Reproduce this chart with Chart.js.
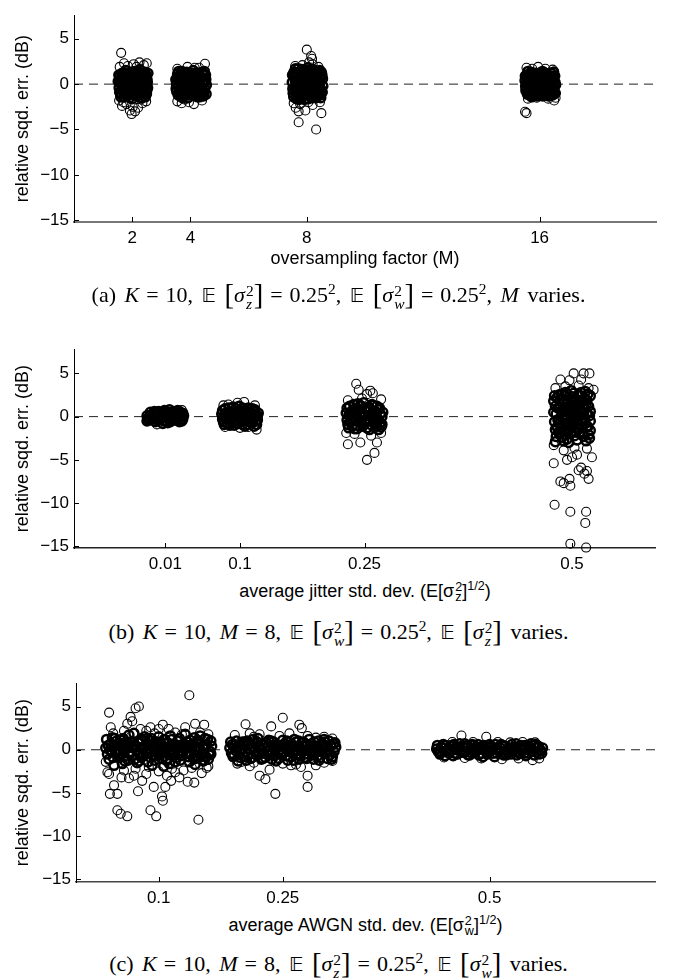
<!DOCTYPE html>
<html><head><meta charset="utf-8">
<script src="https://cdn.jsdelivr.net/npm/chart.js@4.4.1/dist/chart.umd.min.js"></script>
<style>
html,body{margin:0;padding:0;background:#fff;}
body{width:677px;height:978px;position:relative;overflow:hidden;font-family:"Liberation Sans",Arial,Helvetica,sans-serif;color:#000;}
.pane{position:absolute;left:0;width:677px;}
.pane canvas{display:block;}
.xt{position:absolute;text-align:center;font-size:18px;white-space:nowrap;line-height:1;}
.cap{position:absolute;left:0;width:677px;text-align:center;font-family:"Liberation Serif","Times New Roman",serif;font-size:22px;white-space:nowrap;line-height:1;word-spacing:3px;}
.ss{display:inline-block;vertical-align:middle;line-height:0.85;text-align:left;font-size:0.7em;margin-left:1px;}
.ss span{display:block;}
.bb{font-family:"DejaVu Sans","Noto Sans",serif;font-size:0.9em;color:#000;}
.br{font-size:1.3em;vertical-align:-2px;}
.q{margin:0 7px;}
sup{font-size:0.7em;}
i{font-style:italic;}
</style>
</head><body>

<div class="pane" style="top:0;height:250px"><canvas id="ca" width="677" height="250"></canvas></div>
<div class="xt" style="left:74px;width:582px;top:249px">oversampling factor (M)</div>
<div class="cap" style="top:281px">(a) <i>K</i><span class="q">=</span>10, <span class="bb">𝔼</span> <span class="br">[</span><i>σ</i><span class="ss"><span>2</span><span><i>z</i></span></span><span class="br">]</span><span class="q">=</span>0.25<sup>2</sup>, <span class="bb">𝔼</span> <span class="br">[</span><i>σ</i><span class="ss"><span>2</span><span><i>w</i></span></span><span class="br">]</span><span class="q">=</span>0.25<sup>2</sup>, <i>M</i> varies.</div>

<div class="pane" style="top:334px;height:242px"><canvas id="cb" width="677" height="242"></canvas></div>
<div class="xt" style="left:74px;width:582px;top:580px">average jitter std. dev. (E[σ<span class="ss"><span>2</span><span>z</span></span>]<sup>1/2</sup>)</div>
<div class="cap" style="top:618px">(b) <i>K</i><span class="q">=</span>10, <i>M</i><span class="q">=</span>8, <span class="bb">𝔼</span> <span class="br">[</span><i>σ</i><span class="ss"><span>2</span><span><i>w</i></span></span><span class="br">]</span><span class="q">=</span>0.25<sup>2</sup>, <span class="bb">𝔼</span> <span class="br">[</span><i>σ</i><span class="ss"><span>2</span><span><i>z</i></span></span><span class="br">]</span> varies.</div>

<div class="pane" style="top:668px;height:242px"><canvas id="cc" width="677" height="242"></canvas></div>
<div class="xt" style="left:76px;width:579px;top:914px">average AWGN std. dev. (E[σ<span class="ss"><span>2</span><span>w</span></span>]<sup>1/2</sup>)</div>
<div class="cap" style="top:950px">(c) <i>K</i><span class="q">=</span>10, <i>M</i><span class="q">=</span>8, <span class="bb">𝔼</span> <span class="br">[</span><i>σ</i><span class="ss"><span>2</span><span><i>z</i></span></span><span class="br">]</span><span class="q">=</span>0.25<sup>2</sup>, <span class="bb">𝔼</span> <span class="br">[</span><i>σ</i><span class="ss"><span>2</span><span><i>w</i></span></span><span class="br">]</span> varies.</div>

<script>
// ---------- tick values / labels ----------
const yTicks = [-15, -10, -5, 0, 5];
const aXTicks = [2, 4, 8, 16];
const aXLabels = ["2", "4", "8", "16"];
const bXTicks = [0.01, 0.1, 0.25, 0.5];
const bXLabels = ["0.01", "0.1", "0.25", "0.5"];
const cXTicks = [0.1, 0.25, 0.5];
const cXLabels = ["0.1", "0.25", "0.5"];
const yTitle = "relative sqd. err. (dB)";

// ---------- panel (a): oversampling factor M  ([x, dB] per trial) ----------
const aM2 = [[1.52,0.3],[1.55,-0.4],[1.58,0.9],[1.6,-1.1],[1.63,0.1],[1.65,1.2],[1.67,-0.7],[1.7,0.5],[1.72,-1.4],[1.74,-0.2],[1.76,0.8],[1.78,1.5],[1.8,-0.9],[1.82,0.2],[1.84,-0.5],[1.86,1.0],[1.88,-1.2],[1.9,0.4],[1.92,-0.1],[1.94,1.3],[1.96,-0.8],[1.98,0.6],[2.0,-1.6],[2.02,0.0],[2.04,0.9],[2.06,-0.4],[2.08,1.4],[2.1,-1.0],[2.12,0.3],[2.14,-0.6],[2.16,1.1],[2.18,-1.3],[2.2,0.1],[2.22,0.7],[2.24,-0.3],[2.26,1.6],[2.28,-0.9],[2.3,0.4],[2.32,-1.5],[2.34,0.0],[2.36,1.0],[2.38,-0.5],[2.4,0.6],[2.42,-1.1],[2.44,1.3],[2.46,-0.2],[2.48,0.8],[2.5,-0.7],[2.52,0.2],[2.54,1.2],[1.57,-0.9],[1.62,0.6],[1.69,-0.1],[1.73,1.1],[1.79,-0.4],[1.85,0.7],[1.91,-1.5],[1.97,0.3],[2.03,-0.9],[2.09,0.5],[2.15,-0.1],[2.21,-1.2],[2.27,0.2],[2.33,1.2],[2.39,-0.2],[2.45,-1.4],[2.51,0.5],[1.75,0.1],[2.05,0.2],[2.25,-0.5],[1.95,-0.3],[2.35,0.3],[1.66,-0.3],[2.45,0.1],
[1.54,1.0],[1.59,0.2],[1.64,-0.6],[1.68,0.9],[1.71,-0.9],[1.77,-0.1],[1.81,1.2],[1.83,-1.3],[1.87,0.1],[1.89,-0.6],[1.93,0.8],[1.99,-0.2],[2.01,1.1],[2.07,-1.2],[2.11,0.9],[2.13,-0.3],[2.17,0.5],[2.19,-0.8],[2.23,1.3],[2.29,-0.1],[2.31,0.8],[2.37,-1.0],[2.41,0.2],[2.43,-0.5],[2.47,1.0],[2.49,-1.1],[2.53,-0.4],[1.61,-1.4],[1.81,-1.0],[2.19,1.2]];
const aM2Out = [[1.62,3.45],[1.57,1.9],[1.72,2.3],[1.85,2.0],[2.05,2.2],[2.25,2.4],[2.4,2.1],[2.5,2.3],[2.15,1.9],[1.55,-1.8],[1.65,-2.4],[1.8,-2.2],[1.92,-2.9],[1.98,-3.3],[2.1,-3.0],[2.2,-2.6],[2.35,-2.1],[2.48,-1.9],[1.7,-2.0],[2.02,-2.5],[2.3,-1.7]];
const aM4 = [[3.5,0.5],[3.53,-0.8],[3.56,1.1],[3.59,-0.2],[3.62,0.8],[3.65,-1.3],[3.68,0.2],[3.71,1.4],[3.74,-0.6],[3.77,0.4],[3.8,-1.1],[3.83,1.0],[3.86,-0.3],[3.89,0.6],[3.92,-1.5],[3.95,0.1],[3.98,1.2],[4.01,-0.9],[4.04,0.3],[4.07,-0.4],[4.1,1.5],[4.13,-1.2],[4.16,0.7],[4.19,-0.1],[4.22,1.1],[4.25,-0.7],[4.28,0.2],[4.31,-1.4],[4.34,0.9],[4.37,-0.3],[4.4,1.3],[4.43,-0.9],[4.46,0.4],[4.49,-0.5],[4.52,1.0],[4.55,-0.1],[3.52,0.0],[3.58,-1.2],[3.64,0.4],[3.7,-0.8],[3.76,1.2],[3.82,0.0],[3.88,-0.7],[3.94,0.9],[4.0,0.0],[4.06,1.0],[4.12,-0.6],[4.18,0.4],[4.24,-1.4],[4.3,0.6],[4.36,-0.8],[4.42,0.1],[4.48,1.4],[4.54,-1.1],[3.6,1.4],[3.73,-1.5],[3.85,0.3],[3.97,-0.5],[4.09,-1.0],[4.21,0.0],[4.33,0.3],[4.45,-1.3],[3.67,-0.4],[4.27,1.2],
[3.51,-0.5],[3.55,0.7],[3.61,-0.9],[3.66,1.0],[3.69,-0.2],[3.75,0.5],[3.79,-1.3],[3.81,0.7],[3.87,1.3],[3.9,-0.4],[3.93,0.4],[3.99,-1.2],[4.02,0.6],[4.05,-0.7],[4.08,0.4],[4.11,-0.2],[4.14,1.2],[4.17,-0.9],[4.2,0.8],[4.23,-0.4],[4.26,-1.0],[4.29,1.0],[4.32,-0.1],[4.35,-1.2],[4.38,0.7],[4.41,-0.6],[4.44,1.1],[4.47,-0.9],[4.5,0.2],[4.53,0.5]];
const aM4Out = [[4.5,2.25],[4.3,1.8],[3.9,1.9],[3.55,1.7],[4.15,1.8],[3.55,-1.9],[3.7,-2.1],[3.95,-2.0],[4.12,-2.2],[4.4,-1.8],[3.8,-1.7]];
const aM8 = [[7.5,0.2],[7.53,-1.0],[7.56,1.3],[7.59,-0.4],[7.62,0.7],[7.65,-1.6],[7.68,0.0],[7.71,1.7],[7.74,-0.8],[7.77,0.4],[7.8,-1.3],[7.83,1.1],[7.86,-0.2],[7.89,0.8],[7.92,-1.7],[7.95,0.3],[7.98,1.5],[8.01,-1.0],[8.04,0.1],[8.07,-0.5],[8.1,1.2],[8.13,-1.4],[8.16,0.6],[8.19,-0.2],[8.22,1.6],[8.25,-0.9],[8.28,0.3],[8.31,-1.5],[8.34,0.9],[8.37,-0.4],[8.4,1.4],[8.43,-1.1],[8.46,0.5],[8.49,-0.6],[8.52,1.0],[8.55,-0.2],[7.52,-0.5],[7.58,0.9],[7.64,-1.2],[7.7,0.5],[7.76,-0.2],[7.82,1.6],[7.88,-1.0],[7.94,-0.4],[8.0,0.7],[8.06,-1.6],[8.12,0.2],[8.18,-0.8],[8.24,0.0],[8.3,1.1],[8.36,-1.2],[8.42,0.2],[8.48,-1.5],[8.54,0.6],[7.61,1.7],[7.73,-1.7],[7.85,0.2],[7.97,-0.6],[8.09,0.9],[8.21,-1.5],[8.33,-0.3],[8.45,1.5],[7.67,-0.3],[8.27,0.6],[8.03,1.8],[7.79,-0.6],
[7.51,1.0],[7.55,-1.4],[7.6,0.4],[7.63,-0.6],[7.66,1.2],[7.69,-1.1],[7.72,0.1],[7.75,1.3],[7.78,-1.5],[7.81,0.6],[7.84,-0.9],[7.87,1.4],[7.9,-0.3],[7.93,0.9],[7.96,-1.2],[7.99,0.0],[8.02,1.3],[8.05,-0.8],[8.08,0.5],[8.11,-1.1],[8.14,1.6],[8.17,-0.4],[8.2,0.8],[8.23,-1.2],[8.26,1.3],[8.29,-0.6],[8.32,0.5],[8.35,-0.9],[8.38,1.2],[8.41,-0.5],[8.44,0.0],[8.47,-1.2],[8.5,1.3],[8.53,-0.9]];
const aM8Out = [[8.0,3.8],[8.15,3.1],[8.18,2.8],[8.08,2.4],[8.2,2.2],[7.6,2.0],[7.85,2.1],[8.4,1.9],[7.55,-2.1],[7.62,-2.6],[7.72,-3.0],[7.95,-2.9],[7.77,-2.2],[8.2,-2.3],[8.45,-2.0],[7.72,-4.2],[8.32,-5.0],[8.5,-3.2],[8.05,-2.0]];
const aM16 = [[15.5,0.4],[15.53,-0.7],[15.56,1.0],[15.59,-0.1],[15.62,0.7],[15.65,-1.2],[15.68,0.2],[15.71,1.3],[15.74,-0.5],[15.77,0.3],[15.8,-1.0],[15.83,0.9],[15.86,-0.3],[15.89,0.5],[15.92,-1.3],[15.95,0.1],[15.98,1.1],[16.01,-0.8],[16.04,0.3],[16.07,-0.3],[16.1,1.4],[16.13,-1.1],[16.16,0.6],[16.19,-0.1],[16.22,1.0],[16.25,-0.6],[16.28,0.2],[16.31,-1.3],[16.34,0.8],[16.37,-0.3],[16.4,1.2],[16.43,-0.8],[16.46,0.4],[16.49,-0.5],[16.52,0.9],[16.55,-0.1],[15.52,-0.2],[15.58,-1.1],[15.64,0.4],[15.7,-0.7],[15.76,1.1],[15.82,0.0],[15.88,-0.7],[15.94,0.8],[16.0,0.0],[16.06,0.9],[16.12,-0.5],[16.18,0.4],[16.24,-1.2],[16.3,0.6],[16.36,-0.8],[16.42,0.1],[16.48,1.3],[16.54,-1.0],[15.6,1.4],[15.73,-1.4],[15.85,0.3],[15.97,-0.5],[16.09,-0.9],[16.21,0.0],[16.33,0.3],[16.45,-1.2],
[15.51,0.9],[15.54,-0.5],[15.57,0.3],[15.61,-0.8],[15.63,1.1],[15.67,-1.0],[15.69,0.6],[15.72,-0.2],[15.75,0.8],[15.78,-1.2],[15.81,0.4],[15.84,-0.6],[15.87,1.2],[15.9,-0.1],[15.93,0.6],[15.96,-1.1],[15.99,0.5],[16.02,1.2],[16.05,-0.6],[16.08,0.2],[16.11,-1.3],[16.14,0.8],[16.17,-0.3],[16.2,1.2],[16.23,0.3],[16.26,-0.9],[16.29,1.0],[16.32,-0.5],[16.35,0.5],[16.38,-1.2],[16.41,0.9],[16.44,-0.2],[16.47,0.6],[16.5,-0.9],[16.53,0.2]];
const aM16Out = [[15.55,1.8],[15.75,1.7],[15.95,1.9],[16.2,1.7],[16.45,1.6],[16.5,1.4],[15.5,-3.05],[15.55,-3.2],[15.6,-1.6],[15.9,-1.5],[16.3,-1.6],[16.5,-1.8],[16.55,-1.5]];

// ---------- panel (b): jitter std. dev. ----------
const bJ001 = [[-0.012,0.1],[-0.01,-0.4],[-0.008,0.5],[-0.006,-0.1],[-0.004,0.3],[-0.002,-0.6],[0.0,0.0],[0.002,0.6],[0.004,-0.3],[0.006,0.2],[0.008,-0.5],[0.01,0.4],[0.012,-0.1],[0.014,0.5],[0.016,-0.6],[0.018,0.1],[0.02,0.6],[0.022,-0.4],[0.024,0.2],[0.026,-0.2],[0.028,0.5],[0.03,-0.5],[0.032,0.1],[-0.011,-0.2],[-0.007,0.2],[-0.003,0.6],[0.001,-0.4],[0.005,0.0],[0.009,0.7],[0.013,-0.7],[0.017,-0.2],[0.021,0.3],[0.025,0.7],[0.029,0.0],[0.031,-0.3],[-0.005,-0.3],[0.003,0.3],[0.011,0.1],[0.019,-0.3],[0.027,-0.6],[0.007,-0.8],[0.015,0.8],
[-0.009,0.0],[-0.001,0.2],[0.007,0.5],[0.015,-0.4],[0.023,0.4],[0.031,0.4],[0.019,0.5],[0.027,0.2],[-0.012,-0.5],[0.011,-0.5]];
const bJ001Out = [[0.0,-0.9],[0.03,0.75]];
const bJ01 = [[0.078,0.3],[0.08,-0.6],[0.082,0.9],[0.084,-0.1],[0.086,0.5],[0.088,-1.0],[0.09,0.1],[0.092,1.1],[0.094,-0.4],[0.096,0.3],[0.098,-0.8],[0.1,0.7],[0.102,-0.2],[0.104,0.5],[0.106,-1.1],[0.108,0.0],[0.11,1.0],[0.112,-0.6],[0.114,0.2],[0.116,-0.3],[0.118,0.8],[0.12,-0.9],[0.122,0.4],[0.079,-0.3],[0.083,0.4],[0.087,1.0],[0.091,-0.7],[0.095,0.0],[0.099,1.2],[0.103,-0.9],[0.107,0.6],[0.111,-0.2],[0.115,0.9],[0.119,-0.5],[0.121,0.1],[0.085,-0.8],[0.093,0.6],[0.101,-0.5],[0.109,-0.9],[0.117,-1.1],[0.097,0.2],[0.113,0.5],[0.081,0.1],
[0.079,0.7],[0.081,-0.9],[0.085,0.2],[0.089,0.6],[0.093,-1.0],[0.095,0.9],[0.099,-0.2],[0.101,0.3],[0.105,-0.5],[0.109,0.9],[0.111,0.4],[0.115,-0.7],[0.119,0.1],[0.121,-0.4],[0.089,-0.3],[0.103,1.0],[0.117,0.6],[0.083,-0.1]];
const bJ01Out = [[0.08,1.3],[0.086,1.4],[0.097,1.6],[0.105,1.7],[0.118,1.3],[0.082,-1.2],[0.1,-1.3],[0.12,-1.5],[0.11,-1.2]];
const bJ025 = [[0.228,0.4],[0.23,-0.9],[0.232,1.2],[0.234,-0.2],[0.236,0.7],[0.238,-1.4],[0.24,0.1],[0.242,1.5],[0.244,-0.6],[0.246,0.3],[0.248,-1.1],[0.25,0.9],[0.252,-0.3],[0.254,0.6],[0.256,-1.5],[0.258,0.0],[0.26,1.3],[0.262,-0.8],[0.264,0.2],[0.266,-0.4],[0.268,1.0],[0.27,-1.2],[0.272,0.5],[0.229,-0.4],[0.233,0.5],[0.237,1.4],[0.241,-1.0],[0.245,0.0],[0.249,1.6],[0.253,-1.3],[0.257,0.8],[0.261,-0.2],[0.265,1.2],[0.269,-0.7],[0.271,0.0],[0.235,-1.1],[0.243,0.8],[0.251,-0.6],[0.259,-1.0],[0.267,-1.5],[0.247,0.3],[0.263,0.6],[0.231,0.1],[0.239,-0.3],[0.255,1.1],
[0.229,1.0],[0.231,-1.3],[0.235,0.3],[0.239,0.9],[0.241,-1.4],[0.245,1.3],[0.247,-0.8],[0.251,0.1],[0.255,-0.5],[0.259,1.4],[0.261,0.5],[0.265,-1.1],[0.269,0.3],[0.271,-0.9],[0.233,-0.6],[0.243,-0.4],[0.253,1.0],[0.263,-0.5],[0.267,0.8],[0.237,-0.1]];
const bJ025Out = [[0.24,3.8],[0.243,3.1],[0.253,2.6],[0.257,3.0],[0.26,2.7],[0.23,1.9],[0.27,2.0],[0.247,2.1],[0.228,-1.9],[0.23,-3.2],[0.238,-2.0],[0.245,-3.0],[0.253,-5.0],[0.262,-4.2],[0.265,-3.0],[0.27,-1.9],[0.258,-2.2]];
const bJ05 = [[0.478,0.5],[0.48,-1.5],[0.482,2.2],[0.484,-0.3],[0.486,1.1],[0.488,-2.4],[0.49,0.2],[0.492,2.8],[0.494,-1.0],[0.496,0.7],[0.498,-1.9],[0.5,1.6],[0.502,-0.5],[0.504,0.9],[0.506,-2.7],[0.508,0.0],[0.51,2.4],[0.512,-1.3],[0.514,0.4],[0.516,-0.8],[0.518,1.9],[0.52,-2.1],[0.522,0.6],[0.479,-0.6],[0.483,1.0],[0.487,2.6],[0.491,-1.7],[0.495,-0.1],[0.499,3.0],[0.503,-2.2],[0.507,1.3],[0.511,-0.4],[0.515,2.1],[0.519,-1.2],[0.521,0.1],[0.485,-2.0],[0.493,1.4],[0.501,-1.1],[0.509,-1.8],[0.517,-2.8],[0.497,0.4],[0.513,1.1],[0.481,0.3],[0.489,-0.9],[0.505,2.0],[0.478,1.8],[0.48,-2.9],[0.486,-0.7],[0.49,1.5],[0.494,-2.6],[0.498,0.9],[0.502,2.7],[0.506,-1.4],[0.51,0.8],[0.514,-2.3],[0.518,0.3],[0.522,-1.6],[0.482,-1.2],[0.492,-0.2],[0.5,-0.7],[0.508,-0.9],[0.516,2.9],[0.52,1.2],[0.484,2.5],[0.496,-3.0],[0.504,0.1],[0.512,1.7],[0.488,0.8],[0.522,2.4],
[0.479,2.4],[0.481,-2.3],[0.483,-0.4],[0.485,0.9],[0.487,-1.3],[0.489,2.0],[0.491,0.6],[0.493,-2.1],[0.495,1.9],[0.497,-1.4],[0.499,-0.4],[0.501,2.3],[0.503,0.5],[0.505,-1.8],[0.507,-0.3],[0.509,1.6],[0.511,2.8],[0.513,-2.0],[0.515,-0.2],[0.517,1.3],[0.519,2.6],[0.521,-2.5],[0.48,1.2],[0.484,-1.8],[0.49,-2.8],[0.494,2.6],[0.5,0.3],[0.506,1.0],[0.512,-0.6],[0.518,-1.1],[0.522,-0.5],[0.496,1.2],[0.488,-0.1],[0.508,2.5],[0.514,1.4]];
const bJ05Out = [[0.486,4.3],[0.497,4.2],[0.502,5.0],[0.514,5.0],[0.521,5.0],[0.511,4.3],[0.492,3.5],[0.52,3.3],[0.526,3.1],[0.48,3.3],[0.508,3.6],[0.478,-3.3],[0.49,-3.9],[0.503,-3.6],[0.518,-3.7],[0.524,-4.7],[0.5,-4.7],[0.478,-5.4],[0.506,-4.4],[0.486,-7.5],[0.49,-7.7],[0.497,-7.2],[0.498,-8.0],[0.511,-5.9],[0.518,-6.3],[0.52,-7.2],[0.508,-6.2],[0.515,-6.6],[0.494,-5.0],[0.479,-10.2],[0.498,-11.0],[0.517,-11.0],[0.516,-12.3],[0.498,-14.7],[0.517,-15.15]];

// ---------- panel (c): AWGN std. dev. ----------
const cW01 = [[0.036,0.2],[0.04,-1.1],[0.044,1.4],[0.048,-0.3],[0.052,0.8],[0.056,-1.6],[0.06,0.1],[0.064,1.7],[0.068,-0.7],[0.072,0.4],[0.076,-1.3],[0.08,1.0],[0.084,-0.2],[0.088,0.6],[0.092,-1.8],[0.096,0.0],[0.1,1.5],[0.104,-1.0],[0.108,0.3],[0.112,-0.5],[0.116,1.2],[0.12,-1.4],[0.124,0.5],[0.128,-0.1],[0.132,1.8],[0.136,-0.8],[0.14,0.2],[0.144,-1.7],[0.148,0.9],[0.152,-0.4],[0.156,1.3],[0.16,-1.1],[0.164,0.4],
[0.038,-0.5],[0.042,0.7],[0.046,-1.8],[0.05,0.0],[0.054,1.1],[0.058,-0.8],[0.062,0.5],[0.066,-0.2],[0.07,1.9],[0.074,-1.5],[0.078,0.2],[0.082,-0.6],[0.086,1.3],[0.09,-0.9],[0.094,0.6],[0.098,-0.3],[0.102,0.9],[0.106,-1.9],[0.11,0.1],[0.114,1.6],[0.118,-0.6],[0.122,0.2],[0.126,-1.2],[0.13,0.7],[0.134,-0.4],[0.138,1.1],[0.142,-0.9],[0.146,0.0],[0.15,1.6],[0.154,-1.3],[0.158,0.6],[0.162,-0.2],
[0.037,1.2],[0.043,-0.2],[0.047,0.5],[0.053,-0.9],[0.057,1.3],[0.063,-1.2],[0.067,0.9],[0.073,0.0],[0.077,-0.5],[0.083,1.5],[0.087,-1.4],[0.093,0.3],[0.097,-0.7],[0.103,0.5],[0.107,1.2],[0.113,-1.6],[0.117,0.0],[0.123,1.0],[0.127,-0.7],[0.133,0.3],[0.137,-1.4],[0.143,1.4],[0.147,-0.2],[0.153,0.4],[0.157,-0.8],[0.163,1.0],
[0.039,0.5],[0.045,-0.9],[0.049,1.0],[0.055,0.3],[0.059,-1.3],[0.061,0.9],[0.065,-0.5],[0.069,0.2],[0.071,-1.1],[0.075,0.8],[0.079,-0.9],[0.081,0.3],[0.085,-0.5],[0.089,1.1],[0.091,0.0],[0.095,-1.2],[0.099,0.7],[0.101,-0.6],[0.105,0.3],[0.109,-1.2],[0.111,0.8],[0.115,-0.2],[0.119,0.6],[0.121,-0.9],[0.125,1.3],[0.129,-0.4],[0.131,0.1],[0.135,0.9],[0.139,-0.6],[0.141,0.6],[0.145,-1.0],[0.149,0.3],[0.151,-0.8],[0.155,0.1],[0.159,1.2],[0.161,-0.6],
[0.041,0.0],[0.047,1.3],[0.051,-0.5],[0.063,0.3],[0.071,0.6],[0.079,1.2],[0.087,0.1],[0.091,1.3],[0.103,-0.2],[0.111,-1.0],[0.119,-0.2],[0.127,0.5],[0.135,0.5],[0.139,0.2],[0.147,1.1],[0.155,-1.2],[0.163,-0.5],[0.057,-0.1],[0.097,0.9],[0.123,-0.4]];
const cW01Out = [[0.04,4.3],[0.042,2.6],[0.045,1.9],[0.062,3.0],[0.066,3.8],[0.068,3.3],[0.072,4.8],[0.076,5.0],[0.078,2.4],[0.085,2.2],[0.09,2.6],[0.1,2.4],[0.105,2.9],[0.112,2.4],[0.12,2.0],[0.128,1.8],[0.137,6.3],[0.144,3.0],[0.15,2.0],[0.155,2.9],[0.16,1.8],[0.095,1.9],[0.058,2.2],[0.132,2.6],
[0.036,-1.4],[0.038,-2.6],[0.04,-2.8],[0.041,-5.1],[0.046,-4.1],[0.05,-5.1],[0.055,-3.2],[0.05,-7.0],[0.054,-7.4],[0.062,-7.7],[0.064,-3.3],[0.07,-3.0],[0.075,-4.8],[0.08,-3.6],[0.085,-2.8],[0.09,-7.0],[0.094,-4.3],[0.097,-7.7],[0.1,-2.5],[0.104,-5.4],[0.105,-5.9],[0.108,-4.3],[0.11,-3.0],[0.115,-3.6],[0.12,-2.6],[0.125,-3.2],[0.13,-2.4],[0.135,-3.7],[0.143,-3.8],[0.148,-8.1],[0.152,-2.7],[0.158,-2.1],[0.16,-1.9],[0.072,-2.2],[0.088,-2.0],[0.116,-2.2],[0.058,-2.4],[0.14,-2.1]];
const cW025 = [[0.186,0.2],[0.19,-0.8],[0.194,1.0],[0.198,-0.2],[0.202,0.6],[0.206,-1.2],[0.21,0.1],[0.214,1.2],[0.218,-0.6],[0.222,0.3],[0.226,-1.0],[0.23,0.8],[0.234,-0.1],[0.238,0.5],[0.242,-1.3],[0.246,0.0],[0.25,1.1],[0.254,-0.7],[0.258,0.3],[0.262,-0.3],[0.266,0.9],[0.27,-1.1],[0.274,0.4],[0.278,-0.1],[0.282,1.2],[0.286,-0.6],[0.29,0.2],[0.294,-1.2],[0.298,0.7],[0.302,-0.3],[0.306,1.0],[0.31,-0.8],[0.314,0.3],
[0.188,-0.4],[0.192,0.5],[0.196,-1.3],[0.2,0.0],[0.204,0.9],[0.208,-0.6],[0.212,0.4],[0.216,-0.2],[0.22,1.3],[0.224,-1.1],[0.228,0.2],[0.232,-0.5],[0.236,1.0],[0.24,-0.7],[0.244,0.5],[0.248,-0.3],[0.252,0.7],[0.256,-1.2],[0.26,0.1],[0.264,1.2],[0.268,-0.5],[0.272,0.1],[0.276,-0.9],[0.28,0.6],[0.284,-0.3],[0.288,0.9],[0.292,-0.7],[0.296,0.0],[0.3,1.2],[0.304,-1.0],[0.308,0.5],[0.312,-0.2],
[0.187,0.9],[0.193,-0.1],[0.197,0.4],[0.203,-0.8],[0.207,1.0],[0.213,-0.9],[0.217,0.7],[0.223,0.0],[0.227,-0.4],[0.233,1.1],[0.237,-1.1],[0.243,0.2],[0.247,-0.5],[0.253,0.4],[0.257,0.9],[0.263,-1.2],[0.267,0.0],[0.273,0.8],[0.277,-0.5],[0.283,0.2],[0.287,-1.1],[0.293,1.0],[0.297,-0.2],[0.303,0.3],[0.307,-0.6],[0.313,0.8],
[0.189,0.6],[0.191,-0.6],[0.195,0.2],[0.199,-0.9],[0.201,0.9],[0.205,-0.2],[0.209,0.7],[0.211,-1.0],[0.215,0.3],[0.219,0.9],[0.221,-0.5],[0.225,0.6],[0.229,-0.9],[0.231,0.3],[0.235,-0.5],[0.239,0.9],[0.241,0.0],[0.245,-1.0],[0.249,0.4],[0.251,-0.3],[0.255,1.0],[0.259,-0.8],[0.261,0.6],[0.265,-0.1],[0.269,1.0],[0.271,-0.7],[0.275,0.9],[0.279,-1.0],[0.281,0.0],[0.285,0.7],[0.289,-0.4],[0.291,0.4],[0.295,-0.9],[0.299,0.3],[0.301,0.9],[0.305,-0.1],[0.309,-1.1],[0.311,0.7]];
const cW025Out = [[0.205,2.95],[0.192,1.7],[0.21,1.9],[0.215,1.5],[0.222,1.8],[0.236,2.7],[0.25,3.7],[0.246,1.6],[0.258,1.9],[0.27,2.9],[0.273,2.5],[0.28,1.6],[0.29,1.4],[0.3,1.5],[0.31,1.3],[0.195,-1.6],[0.2,-1.4],[0.21,-1.9],[0.222,-3.0],[0.229,-3.4],[0.234,-2.3],[0.241,-5.1],[0.25,-1.6],[0.26,-1.8],[0.266,-1.7],[0.272,-2.0],[0.28,-3.0],[0.28,-4.3],[0.29,-1.8],[0.3,-1.5],[0.31,-1.3],[0.215,-1.5]];
const cW05 = [[0.436,0.1],[0.44,-0.5],[0.444,0.6],[0.448,-0.1],[0.452,0.4],[0.456,-0.7],[0.46,0.0],[0.464,0.7],[0.468,-0.3],[0.472,0.2],[0.476,-0.6],[0.48,0.5],[0.484,-0.1],[0.488,0.3],[0.492,-0.8],[0.496,0.0],[0.5,0.6],[0.504,-0.4],[0.508,0.2],[0.512,-0.2],[0.516,0.5],[0.52,-0.6],[0.524,0.2],[0.528,-0.1],[0.532,0.7],[0.536,-0.4],[0.54,0.1],[0.544,-0.7],[0.548,0.4],[0.552,-0.2],[0.556,0.6],[0.56,-0.5],[0.564,0.2],
[0.438,-0.2],[0.442,0.3],[0.446,-0.7],[0.45,0.0],[0.454,0.5],[0.458,-0.4],[0.462,0.2],[0.466,-0.1],[0.47,0.7],[0.474,-0.6],[0.478,0.1],[0.482,-0.3],[0.486,0.6],[0.49,-0.4],[0.494,0.3],[0.498,-0.2],[0.502,0.4],[0.506,-0.8],[0.51,0.1],[0.514,0.6],[0.518,-0.3],[0.522,0.0],[0.526,-0.5],[0.53,0.3],[0.534,-0.2],[0.538,0.5],[0.542,-0.4],[0.546,0.0],[0.55,0.7],[0.554,-0.6],[0.558,0.3],[0.562,-0.1],
[0.437,0.5],[0.441,-0.2],[0.443,0.2],[0.447,0.5],[0.451,-0.4],[0.453,0.1],[0.457,0.6],[0.461,-0.5],[0.463,0.3],[0.467,0.4],[0.471,-0.2],[0.473,0.5],[0.477,-0.3],[0.479,0.6],[0.483,0.2],[0.487,-0.6],[0.489,0.1],[0.493,0.5],[0.497,-0.5],[0.499,0.3],[0.503,0.0],[0.507,0.6],[0.509,-0.4],[0.513,0.2],[0.517,-0.6],[0.519,0.4],[0.523,-0.3],[0.527,0.6],[0.529,0.1],[0.533,-0.6],[0.537,0.3],[0.539,-0.1],[0.543,0.5],[0.547,-0.4],[0.549,0.2],[0.553,0.5],[0.557,-0.3],[0.559,0.4],[0.563,-0.4]];
const cW05Out = [[0.466,1.65],[0.496,1.5],[0.455,0.9],[0.48,0.9],[0.51,0.9],[0.525,0.85],[0.54,0.9],[0.555,0.85],[0.445,-0.9],[0.47,-0.95],[0.49,-1.0],[0.515,-1.1],[0.535,-1.0],[0.552,-1.2],[0.56,-1.0]];

// ---------- axis ranges ----------
const aXRange = [0, 20], aYRange = [-15.2, 7.6];
const bXRange = [-0.1, 0.6], bYRange = [-15.2, 7.8];
const cXRange = [0, 0.7], cYRange = [-15.3, 7.7];

// ---------- chart builder ----------
const FONT = '"Liberation Sans", Arial, Helvetica, sans-serif';
const fmt = v => (v < 0 ? '\u2212' + Math.abs(v) : String(v));

const innerTicks = {
  id: 'innerTicks',
  afterDraw(chart) {
    const ctx = chart.ctx, a = chart.chartArea;
    ctx.save();
    ctx.strokeStyle = '#000';
    ctx.lineWidth = 1;
    const x = chart.scales.x, y = chart.scales.y;
    x.ticks.forEach(t => {
      const px = Math.round(x.getPixelForValue(t.value)) + 0.5;
      ctx.beginPath(); ctx.moveTo(px, a.bottom); ctx.lineTo(px, a.bottom - 5); ctx.stroke();
    });
    y.ticks.forEach(t => {
      const py = Math.round(y.getPixelForValue(t.value)) + 0.5;
      ctx.beginPath(); ctx.moveTo(a.left, py); ctx.lineTo(a.left + 5, py); ctx.stroke();
    });
    ctx.restore();
  }
};

function toPts(arr) { return arr.map(p => ({x: p[0], y: p[1]})); }
function ds(arr, bw) {
  return {
    type: 'scatter', data: toPts(arr),
    pointStyle: 'circle', pointRadius: 4.5, pointBorderWidth: bw,
    pointBorderColor: '#000', pointBackgroundColor: 'rgba(0,0,0,0)',
    showLine: false, clip: false, order: 1
  };
}

function makeChart(id, cores, outs, xRange, yRange, xTicks, xLabels, yW, padRight, xBorder) {
  const datasets = [];
  cores.forEach(c => datasets.push(ds(c, 2.5)));
  outs.forEach(c => datasets.push(ds(c, 1.1)));
  datasets.push({
    type: 'line',
    data: [{x: xRange[0], y: 0}, {x: xRange[1], y: 0}],
    borderColor: '#222', borderWidth: 1, borderDash: [9, 6],
    pointRadius: 0, fill: false, order: 10
  });
  return new Chart(document.getElementById(id), {
    type: 'scatter',
    data: {datasets},
    plugins: [innerTicks],
    options: {
      responsive: false,
      animation: false,
      events: [],
      layout: {padding: {top: 9, right: padRight, left: 0, bottom: 0}},
      plugins: {legend: {display: false}, tooltip: {enabled: false}},
      scales: {
        x: {
          type: 'linear',
          min: xRange[0], max: xRange[1],
          grid: {display: false, drawTicks: false},
          border: {display: true, color: xBorder.color, width: xBorder.width},
          afterFit: s => { s.height = 28; },
          afterBuildTicks: s => { s.ticks = xTicks.map(v => ({value: v})); },
          ticks: {
            padding: 6, color: '#000', maxRotation: 0, autoSkip: false,
            font: {family: FONT, size: 17},
            callback: (v) => { const i = xTicks.indexOf(v); return i >= 0 ? xLabels[i] : ''; }
          }
        },
        y: {
          type: 'linear',
          min: yRange[0], max: yRange[1],
          grid: {display: false, drawTicks: false},
          border: {display: true, color: '#000', width: 1},
          afterFit: s => { s.width = yW; },
          afterBuildTicks: s => { s.ticks = yTicks.map(v => ({value: v})); },
          ticks: {
            padding: 5, color: '#000', autoSkip: false,
            font: {family: FONT, size: 17},
            callback: v => fmt(v)
          },
          title: {
            display: true, text: yTitle, color: '#000',
            font: {family: FONT, size: 18},
            padding: {top: 12, bottom: 0}
          }
        }
      }
    }
  });
}

makeChart('ca', [aM2, aM4, aM8, aM16], [aM2Out, aM4Out, aM8Out, aM16Out], aXRange, aYRange, aXTicks, aXLabels, 74, 21, {color: '#777', width: 2});
makeChart('cb', [bJ001, bJ01, bJ025, bJ05], [bJ001Out, bJ01Out, bJ025Out, bJ05Out], bXRange, bYRange, bXTicks, bXLabels, 74, 22, {color: '#222', width: 1.5});
makeChart('cc', [cW01, cW025, cW05], [cW01Out, cW025Out, cW05Out], cXRange, cYRange, cXTicks, cXLabels, 76, 22, {color: '#444', width: 1.5});
</script>
</body></html>
